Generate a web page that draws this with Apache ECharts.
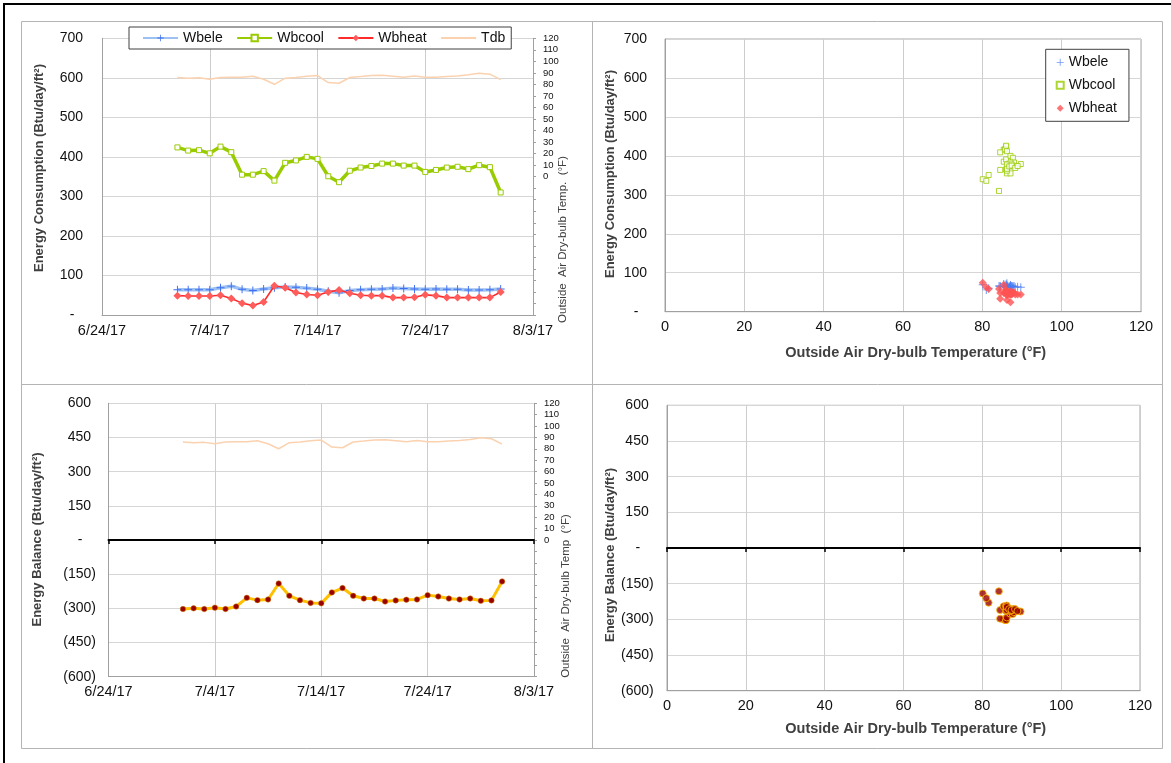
<!DOCTYPE html>
<html>
<head>
<meta charset="utf-8">
<script src="https://cdn.jsdelivr.net/npm/echarts@6/dist/echarts.min.js"></script>
<style>
html, body { margin: 0; padding: 0; background: #ffffff; }
#chart { width: 1171px; height: 763px; }
</style>
</head>
<body>
<div id="chart"></div>
<script>
// Daily values, July 2017
const dates = ['7/1/17','7/2/17','7/3/17','7/4/17','7/5/17','7/6/17','7/7/17','7/8/17','7/9/17','7/10/17',
  '7/11/17','7/12/17','7/13/17','7/14/17','7/15/17','7/16/17','7/17/17','7/18/17','7/19/17','7/20/17',
  '7/21/17','7/22/17','7/23/17','7/24/17','7/25/17','7/26/17','7/27/17','7/28/17','7/29/17','7/30/17','7/31/17'];

// Energy consumption, Btu/day/ft2
const wbele = [64, 64, 64, 64, 69, 73, 65, 62, 66, 69, 71, 70, 68, 65, 60, 56, 62, 64, 65, 66,
  68, 67, 66, 65, 66, 65, 65, 63, 63, 64, 66];
const wbcool = [424, 416, 417, 409, 426, 412, 355, 355, 364, 340, 385, 391, 400, 395, 351, 336, 365, 373, 377, 383,
  383, 378, 378, 362, 367, 373, 375, 369, 379, 374, 310];
const wbheat = [49, 48, 48, 48, 50, 42, 30, 24, 33, 74, 69, 57, 52, 50, 58, 63, 55, 50, 49, 49,
  44, 44, 45, 51, 49, 44, 44, 44, 44, 44, 58];

// Outside air dry-bulb temperature, °F
const tdb = [86.0, 85.4, 85.7, 84.5, 86.0, 86.2, 86.2, 87.1, 84.5, 80.1, 85.4, 86.0, 87.1, 87.7, 81.6, 81.0,
  86.0, 86.8, 87.7, 88.0, 87.1, 86.2, 87.4, 86.2, 86.2, 86.8, 87.4, 88.3, 89.7, 88.9, 84.2];

// Energy balance, Btu/day/ft2
const balance = [-303, -300, -303, -297, -303, -292, -254, -264, -261, -191, -245, -264, -276, -278, -230, -211,
  -245, -257, -257, -270, -265, -262, -261, -242, -248, -257, -261, -257, -267, -265, -182];

// Axis ranges
const dateRange = ['6/24/17', '8/3/17'];
const dateStep = 10;
const consumptionRange = [0, 700, 100];
const balanceRange = [-600, 600, 150];
const tempAxisRange = [-120, 120, 10];
const tempXRange = [0, 120, 20];

const FONT = 'Liberation Sans, Arial, sans-serif';
const LABEL_COLOR = '#111111';
const TITLE_COLOR = '#404040';

// Spreadsheet serial day numbers (day 0 = 12/30/1899)
function toSerial(s) {
  const p = s.split('/').map(Number);
  return Math.round((Date.UTC(2000 + p[2], p[0] - 1, p[1]) - Date.UTC(1899, 11, 30)) / 86400000);
}
function serialLabel(v) {
  const d = new Date(Date.UTC(1899, 11, 30) + v * 86400000);
  return (d.getUTCMonth() + 1) + '/' + d.getUTCDate() + '/' + String(d.getUTCFullYear()).slice(2);
}
// Accounting style: negatives in parentheses, zero as a dash
function acct(v) {
  if (v === 0) return '{z|-}';
  if (v > 0) return '{p|' + v + '}';
  return '(' + (-v) + ')';
}
const acctRich = {
  p: { fontSize: 14, color: LABEL_COLOR, fontFamily: FONT, padding: [0, 5, 0, 0] },
  z: { fontSize: 14, color: LABEL_COLOR, fontFamily: FONT, padding: [0, 13.5, 0, 0] }
};

const serials = dates.map(toSerial);
const dMin = toSerial(dateRange[0]);
const dMax = toSerial(dateRange[1]);

const pair = (xs, ys) => xs.map((x, i) => [x, ys[i]]);

const plusSymbol = 'path://M4.4,0h1.2v4.4h4.4v1.2h-4.4v4.4h-1.2v-4.4h-4.4v-1.2h4.4z';

function dateAxis(gridIndex) {
  return {
    gridIndex: gridIndex, type: 'value', min: dMin, max: dMax, interval: dateStep,
    axisLine: { onZero: false, lineStyle: { color: '#a0a0a0', width: 1 } },
    axisTick: { show: false },
    axisLabel: { formatter: serialLabel, fontSize: 14.5, color: LABEL_COLOR, fontFamily: FONT, margin: 8 },
    splitLine: { show: true, lineStyle: { color: '#cdcdcd', width: 1 } }
  };
}
function tempXAxis(gridIndex) {
  return {
    gridIndex: gridIndex, type: 'value', min: tempXRange[0], max: tempXRange[1], interval: tempXRange[2],
    axisLine: { onZero: false, lineStyle: { color: '#a0a0a0', width: 1 } },
    axisTick: { show: false },
    axisLabel: { fontSize: 14.5, color: LABEL_COLOR, fontFamily: FONT, margin: 8 },
    splitLine: { show: true, lineStyle: { color: '#cdcdcd', width: 1 } }
  };
}
function zeroLineAxis(gridIndex, min, max, interval) {
  return {
    gridIndex: gridIndex, type: 'value', min: min, max: max, interval: interval, position: 'bottom',
    axisLine: { onZero: true, lineStyle: { color: '#000000', width: 2 } },
    axisTick: { show: true, length: 4, lineStyle: { color: '#000000', width: 1.5 } },
    axisLabel: { show: false },
    splitLine: { show: false }
  };
}
function valueYAxis(gridIndex, range, margin) {
  return {
    gridIndex: gridIndex, type: 'value', min: range[0], max: range[1], interval: range[2],
    axisLine: { show: true, onZero: false, lineStyle: { color: '#a0a0a0', width: 1 } },
    axisTick: { show: false },
    axisLabel: { formatter: acct, rich: acctRich, fontSize: 14, color: LABEL_COLOR, fontFamily: FONT, margin: margin },
    splitLine: { show: true, lineStyle: { color: '#d6d6d6', width: 1 } }
  };
}
function tempYAxis(gridIndex) {
  return {
    gridIndex: gridIndex, type: 'value', position: 'right',
    min: tempAxisRange[0], max: tempAxisRange[1], interval: tempAxisRange[2],
    axisLine: { show: true, onZero: false, lineStyle: { color: '#a0a0a0', width: 1 } },
    axisTick: { show: true, inside: false, length: 3, lineStyle: { color: '#a0a0a0' } },
    axisLabel: { formatter: v => (v >= 0 ? String(v) : ''), fontSize: 9.5, color: LABEL_COLOR, fontFamily: FONT, margin: 10 },
    splitLine: { show: false }
  };
}

function textEl(x, y, text, font, rotate) {
  return {
    type: 'text', x: x, y: y, rotation: rotate ? Math.PI / 2 : 0, z: 10,
    style: { text: text, font: font, fill: TITLE_COLOR, align: 'center', verticalAlign: 'middle' }
  };
}
function lineEl(x1, y1, x2, y2, color, w) {
  return { type: 'line', z: 0, shape: { x1: x1, y1: y1, x2: x2, y2: y2 }, style: { stroke: color, lineWidth: w } };
}

const PANEL = '#b4b4b4';
const option = {
  animation: false,
  backgroundColor: '#ffffff',
  textStyle: { fontFamily: FONT },
  grid: [
    { left: 102, top: 38.3, width: 431, height: 276.7 },
    { left: 665, top: 39, width: 476, height: 272.7, show: true, borderColor: '#a6a6a6', borderWidth: 1 },
    { left: 108.5, top: 403.3, width: 425.5, height: 273.4 },
    { left: 667, top: 405.3, width: 473, height: 285.4, show: true, borderColor: '#a6a6a6', borderWidth: 1 }
  ],
  xAxis: [
    dateAxis(0),
    tempXAxis(1),
    dateAxis(2),
    zeroLineAxis(2, dMin, dMax, dateStep),
    tempXAxis(3),
    zeroLineAxis(3, tempXRange[0], tempXRange[1], tempXRange[2])
  ],
  yAxis: [
    valueYAxis(0, consumptionRange, 14),
    tempYAxis(0),
    valueYAxis(1, consumptionRange, 13),
    valueYAxis(2, balanceRange, 12.5),
    tempYAxis(2),
    valueYAxis(3, balanceRange, 13.3)
  ],
  legend: [
    {
      left: 129, top: 27, orient: 'horizontal',
      padding: [3, 6, 3, 13], itemGap: 13.5, itemWidth: 35, itemHeight: 8,
      backgroundColor: '#ffffff', borderColor: '#404040', borderWidth: 1,
      textStyle: { fontSize: 14, color: '#111', fontFamily: FONT, lineHeight: 16 },
      data: ['Wbele', 'Wbcool', 'Wbheat', { name: 'Tdb', itemStyle: { opacity: 0 } }]
    },
    {
      left: 1045.7, top: 49.3, orient: 'vertical',
      padding: [5, 12, 5, 10], itemGap: 7, itemWidth: 7, itemHeight: 7,
      backgroundColor: '#ffffff', borderColor: '#404040', borderWidth: 1,
      textStyle: { fontSize: 14, color: '#111', fontFamily: FONT, lineHeight: 16 },
      formatter: name => name.replace(' vs Tdb', ''),
      data: ['Wbele vs Tdb', 'Wbcool vs Tdb', 'Wbheat vs Tdb']
    }
  ],
  series: [
    // Time series of consumption
    {
      name: 'Tdb', type: 'line', xAxisIndex: 0, yAxisIndex: 1, symbol: 'none',
      lineStyle: { color: '#fbd2b0', width: 1.5 }, itemStyle: { color: '#fbd2b0' },
      data: pair(serials, tdb), z: 2
    },
    {
      name: 'Wbcool', type: 'line', xAxisIndex: 0, yAxisIndex: 0, symbol: 'rect', symbolSize: 5, showAllSymbol: true,
      lineStyle: { color: '#99cc00', width: 3.5 },
      itemStyle: { color: '#ffffff', borderColor: '#99cc00', borderWidth: 1 },
      data: pair(serials, wbcool), z: 3
    },
    {
      name: 'Wbele', type: 'line', xAxisIndex: 0, yAxisIndex: 0, symbol: plusSymbol, symbolSize: 8, showAllSymbol: true,
      lineStyle: { color: '#9dc1f2', width: 3.5 },
      itemStyle: { color: '#3f6ff0' },
      data: pair(serials, wbele), z: 4
    },
    {
      name: 'Wbheat', type: 'line', xAxisIndex: 0, yAxisIndex: 0, symbol: 'diamond', symbolSize: 8, showAllSymbol: true,
      lineStyle: { color: '#ff2a2a', width: 1.6 },
      itemStyle: { color: '#ff5c5c' },
      data: pair(serials, wbheat), z: 5
    },
    // Consumption against temperature
    {
      name: 'Wbele vs Tdb', type: 'scatter', xAxisIndex: 1, yAxisIndex: 2, symbol: plusSymbol, symbolSize: 8,
      itemStyle: { color: '#4a7cf2' }, data: pair(tdb, wbele)
    },
    {
      name: 'Wbcool vs Tdb', type: 'scatter', xAxisIndex: 1, yAxisIndex: 2, symbol: 'rect', symbolSize: 5,
      itemStyle: { color: '#ffffff', borderColor: '#99cc00', borderWidth: 1 }, data: pair(tdb, wbcool)
    },
    {
      name: 'Wbheat vs Tdb', type: 'scatter', xAxisIndex: 1, yAxisIndex: 2, symbol: 'diamond', symbolSize: 8,
      itemStyle: { color: '#ff5252' }, data: pair(tdb, wbheat)
    },
    // Energy balance over time
    {
      name: 'Tdb (balance)', type: 'line', xAxisIndex: 2, yAxisIndex: 4, symbol: 'none',
      lineStyle: { color: '#fbd2b0', width: 1.5 }, data: pair(serials, tdb), z: 2
    },
    {
      name: 'Balance', type: 'line', xAxisIndex: 2, yAxisIndex: 3, symbol: 'circle', symbolSize: 5.5, showAllSymbol: true,
      lineStyle: { color: '#ffc000', width: 3 },
      itemStyle: { color: '#990000', borderColor: '#d08000', borderWidth: 0.5 },
      data: pair(serials, balance), z: 5
    },
    // Energy balance against temperature
    {
      name: 'Balance vs Tdb', type: 'scatter', xAxisIndex: 4, yAxisIndex: 5, symbol: 'circle', symbolSize: 7,
      itemStyle: { color: '#990000', borderColor: '#ffc000', borderWidth: 1 },
      data: pair(tdb, balance), z: 5
    }
  ],
  graphic: [
    lineEl(3, 4, 1171, 4, '#000000', 2),
    lineEl(4, 3, 4, 763, '#000000', 2),
    { type: 'rect', z: 0, shape: { x: 21.5, y: 21.5, width: 1141, height: 727 }, style: { fill: null, stroke: PANEL, lineWidth: 1 } },
    lineEl(592.5, 21, 592.5, 749, PANEL, 1),
    lineEl(21, 384.5, 1163, 384.5, PANEL, 1),
    textEl(39.5, 168, 'Energy Consumption (Btu/day/ft²)', 'bold 13px ' + FONT, true),
    textEl(563, 239.5, 'Outside  Air Dry-bulb Temp.  (°F)', '11.5px ' + FONT, true),
    textEl(610, 174, 'Energy Consumption (Btu/day/ft²)', 'bold 13px ' + FONT, true),
    textEl(915.7, 353.3, 'Outside Air Dry-bulb Temperature (°F)', 'bold 14.5px ' + FONT, false),
    textEl(37.6, 539.5, 'Energy Balance (Btu/day/ft²)', 'bold 13px ' + FONT, true),
    textEl(566, 596, 'Outside  Air Dry-bulb Temp  (°F)', '11.5px ' + FONT, true),
    textEl(610, 555, 'Energy Balance (Btu/day/ft²)', 'bold 13px ' + FONT, true),
    textEl(915.7, 729.3, 'Outside Air Dry-bulb Temperature (°F)', 'bold 14.5px ' + FONT, false)
  ]
};

const chart = echarts.init(document.getElementById('chart'), null, { renderer: 'canvas' });
chart.setOption(option);
</script>
</body>
</html>
